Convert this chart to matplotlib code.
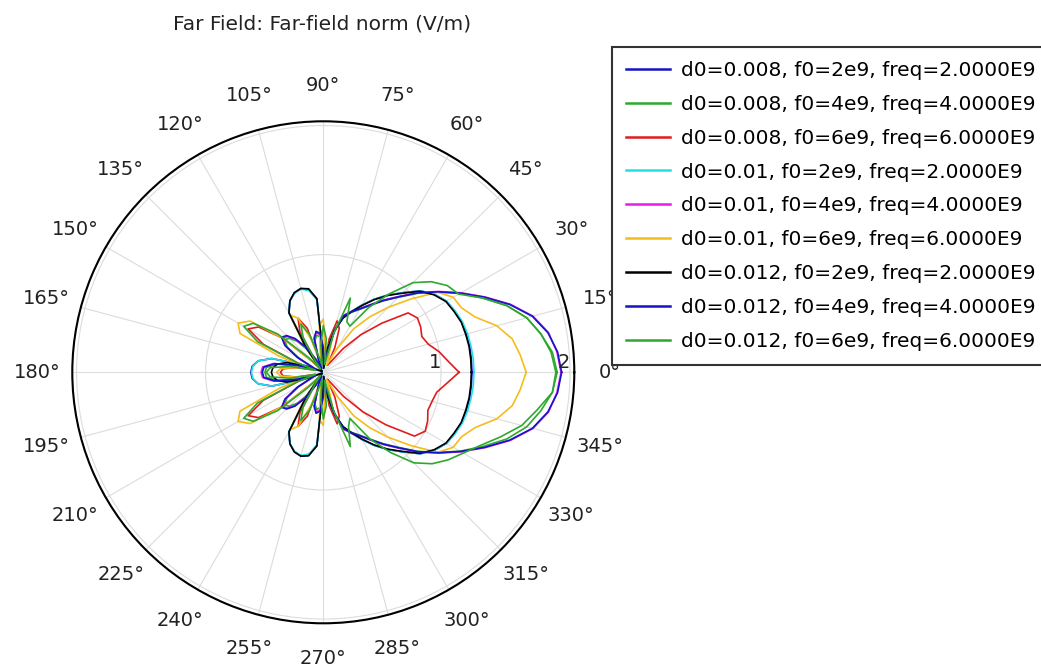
import numpy as np
import matplotlib
matplotlib.use("Agg")
import matplotlib.pyplot as plt

plt.rcParams['font.family'] = ['DejaVu Sans']

# angles in degrees (0..355 step 5)
angles_deg = list(range(0, 360, 5))

r_d008_f2 = [1.24,1.24,1.24,1.235,1.23,1.21,1.19,1.14,1.07,0.96,0.87,0.78,0.69,0.61,0.54,0.43,0.28,0.12,0.20,0.66,0.74,0.76,0.74,0.70,0.62,0.32,0.12,0.10,0.10,0.10,0.10,0.12,0.25,0.50,0.60,0.64,0.65,
             0.64,0.60,0.50,0.25,0.12,0.10,0.10,0.10,0.10,0.12,0.32,0.62,0.70,0.74,0.76,0.74,0.66,0.20,0.12,0.28,0.43,0.54,0.61,0.69,0.78,0.87,0.96,1.07,1.14,1.19,1.21,1.23,1.235,1.24,1.24]
r_d008_f4 = [1.90,1.87,1.80,1.72,1.60,1.45,1.31,1.17,1.04,0.91,0.81,0.72,0.65,0.60,0.55,0.41,0.22,0.15,0.27,0.36,0.38,0.34,0.20,0.12,0.20,0.30,0.40,0.46,0.48,0.43,0.30,0.18,0.15,0.28,0.45,0.53,0.54,
             0.53,0.45,0.28,0.15,0.18,0.30,0.43,0.48,0.46,0.40,0.30,0.20,0.12,0.20,0.34,0.38,0.36,0.27,0.15,0.22,0.41,0.55,0.60,0.65,0.72,0.81,0.91,1.04,1.17,1.31,1.45,1.60,1.72,1.80,1.87]
r_d008_f6 = [1.14,1.06,1.00,0.93,0.90,0.92,0.93,0.89,0.68,0.50,0.33,0.18,0.15,0.30,0.45,0.50,0.35,0.15,0.20,0.35,0.20,0.15,0.45,0.55,0.45,0.20,0.12,0.20,0.50,0.70,0.76,0.60,0.30,0.15,0.30,0.40,0.42,
             0.40,0.30,0.15,0.30,0.60,0.76,0.70,0.50,0.20,0.12,0.20,0.45,0.55,0.45,0.15,0.20,0.35,0.20,0.15,0.35,0.50,0.45,0.30,0.15,0.18,0.33,0.52,0.72,0.95,1.00,0.98,0.95,0.96,0.98,1.05]
r_d010_f2 = [1.255,1.255,1.25,1.245,1.235,1.215,1.19,1.14,1.07,0.96,0.87,0.78,0.69,0.61,0.54,0.43,0.28,0.12,0.20,0.65,0.73,0.755,0.74,0.70,0.62,0.32,0.12,0.10,0.10,0.10,0.10,0.12,0.25,0.50,0.60,0.635,0.645,
             0.635,0.60,0.50,0.25,0.12,0.10,0.10,0.10,0.10,0.12,0.32,0.62,0.70,0.74,0.755,0.73,0.65,0.20,0.12,0.28,0.43,0.54,0.61,0.69,0.78,0.87,0.96,1.07,1.14,1.19,1.215,1.235,1.245,1.25,1.255]
r_d010_f4 = [1.93,1.905,1.86,1.77,1.63,1.47,1.32,1.18,1.05,0.92,0.82,0.73,0.66,0.61,0.56,0.42,0.22,0.15,0.28,0.38,0.40,0.36,0.20,0.12,0.20,0.32,0.42,0.48,0.50,0.45,0.32,0.18,0.15,0.30,0.48,0.56,0.57,
             0.56,0.48,0.30,0.15,0.18,0.32,0.45,0.50,0.48,0.42,0.32,0.20,0.12,0.20,0.36,0.40,0.38,0.28,0.15,0.22,0.42,0.56,0.61,0.66,0.73,0.82,0.92,1.05,1.18,1.32,1.47,1.63,1.77,1.86,1.905]
r_d010_f6 = [1.66,1.62,1.575,1.48,1.34,1.27,1.25,1.17,0.97,0.80,0.65,0.50,0.30,0.15,0.20,0.35,0.30,0.25,0.50,0.45,0.20,0.15,0.35,0.55,0.60,0.35,0.15,0.20,0.50,0.78,0.85,0.80,0.45,0.20,0.30,0.42,0.45,
             0.42,0.30,0.20,0.45,0.80,0.85,0.78,0.50,0.20,0.15,0.35,0.60,0.55,0.35,0.15,0.20,0.45,0.50,0.25,0.30,0.35,0.20,0.15,0.30,0.50,0.65,0.80,0.97,1.17,1.25,1.27,1.34,1.48,1.575,1.62]
r_d012_f2 = [1.235,1.235,1.235,1.23,1.225,1.205,1.185,1.135,1.065,0.955,0.865,0.775,0.685,0.605,0.535,0.425,0.28,0.12,0.20,0.66,0.745,0.76,0.745,0.70,0.62,0.32,0.12,0.10,0.10,0.10,0.10,0.12,0.22,0.38,0.45,0.48,0.49,
             0.48,0.45,0.38,0.22,0.12,0.10,0.10,0.10,0.10,0.12,0.32,0.62,0.70,0.745,0.76,0.745,0.66,0.20,0.12,0.28,0.425,0.535,0.605,0.685,0.775,0.865,0.955,1.065,1.135,1.185,1.205,1.225,1.23,1.235,1.235]
r_d012_f4 = [1.935,1.91,1.855,1.765,1.625,1.465,1.315,1.175,1.045,0.915,0.815,0.725,0.655,0.605,0.555,0.42,0.22,0.15,0.28,0.39,0.41,0.36,0.20,0.12,0.20,0.33,0.43,0.49,0.51,0.45,0.32,0.18,0.15,0.30,0.47,0.55,0.56,
             0.55,0.47,0.30,0.15,0.18,0.32,0.45,0.51,0.49,0.43,0.33,0.20,0.12,0.20,0.36,0.41,0.39,0.28,0.15,0.22,0.42,0.555,0.605,0.655,0.725,0.815,0.915,1.045,1.175,1.315,1.465,1.625,1.765,1.855,1.91]
r_d012_f6 = [1.89,1.86,1.80,1.72,1.60,1.45,1.30,1.26,1.18,1.07,0.88,0.70,0.50,0.52,0.70,0.40,0.15,0.35,0.45,0.30,0.15,0.20,0.40,0.50,0.40,0.20,0.12,0.25,0.55,0.75,0.80,0.65,0.30,0.15,0.35,0.50,0.53,
             0.50,0.35,0.15,0.30,0.65,0.80,0.75,0.55,0.25,0.12,0.20,0.40,0.50,0.40,0.20,0.15,0.30,0.45,0.35,0.15,0.40,0.70,0.55,0.50,0.72,0.90,1.08,1.19,1.27,1.34,1.43,1.55,1.68,1.77,1.87]

series_labels = [
    "d0=0.008, f0=2e9, freq=2.0000E9",
    "d0=0.008, f0=4e9, freq=4.0000E9",
    "d0=0.008, f0=6e9, freq=6.0000E9",
    "d0=0.01, f0=2e9, freq=2.0000E9",
    "d0=0.01, f0=4e9, freq=4.0000E9",
    "d0=0.01, f0=6e9, freq=6.0000E9",
    "d0=0.012, f0=2e9, freq=2.0000E9",
    "d0=0.012, f0=4e9, freq=4.0000E9",
    "d0=0.012, f0=6e9, freq=6.0000E9",
]
series_values = [r_d008_f2, r_d008_f4, r_d008_f6, r_d010_f2, r_d010_f4, r_d010_f6,
                 r_d012_f2, r_d012_f4, r_d012_f6]
series_colors = ["#1414c8", "#2ea82e", "#e01c1c", "#22e0e8", "#e81ce8", "#f5bc1c",
                 "#000000", "#1414c8", "#2ea82e"]

theta_labels = [f"{d}°" for d in range(0, 360, 15)]
r_min, r_max = 0.0876, 2.033
r_ticks = [1, 2]

W, H = 1041, 670
fig = plt.figure(figsize=(W / 100, H / 100), dpi=100)
cx, cy, R = 323.3, 372.3, 251.0
ax = fig.add_axes([(cx - R) / W, (H - cy - R) / H, 2 * R / W, 2 * R / H], projection='polar')

theta = np.deg2rad(angles_deg + [360])
for vals, col, lab in zip(series_values, series_colors, series_labels):
    ax.plot(theta, vals + [vals[0]], color=col, lw=1.2, label=lab)

ax.set_ylim(r_min, r_max)
ax.set_yticks(r_ticks)
ax.set_yticklabels([])
for rv in r_ticks:
    ax.text(0, rv, str(rv), ha='right', va='bottom', fontsize=14, color='#222222')

ax.set_xticks(np.deg2rad(np.arange(0, 360, 15)))
ax.set_xticklabels(theta_labels, fontsize=14, color='#222222')
ax.tick_params(axis='x', pad=15)
ax.grid(True, color='#dcdcdc', lw=0.8)
ax.spines['polar'].set_color('black')
ax.spines['polar'].set_linewidth(1.5)

fig.text(322.5 / W, 1 - 24 / H, "Far Field: Far-field norm (V/m)", ha='center', va='center',
         fontsize=14.5, color='#222222')

leg = fig.legend(loc='upper left', bbox_to_anchor=(611.7 / W, 1 - 46.7 / H), fontsize=14.5,
                 frameon=True, fancybox=False, framealpha=1, edgecolor='#333333',
                 handlelength=2.2, handletextpad=0.55, labelspacing=0.74, borderpad=0.7,
                 borderaxespad=0)
leg.get_frame().set_linewidth(1.5)
for h in leg.get_lines():
    h.set_linewidth(1.8)

fig.savefig("out.png", dpi=100)
